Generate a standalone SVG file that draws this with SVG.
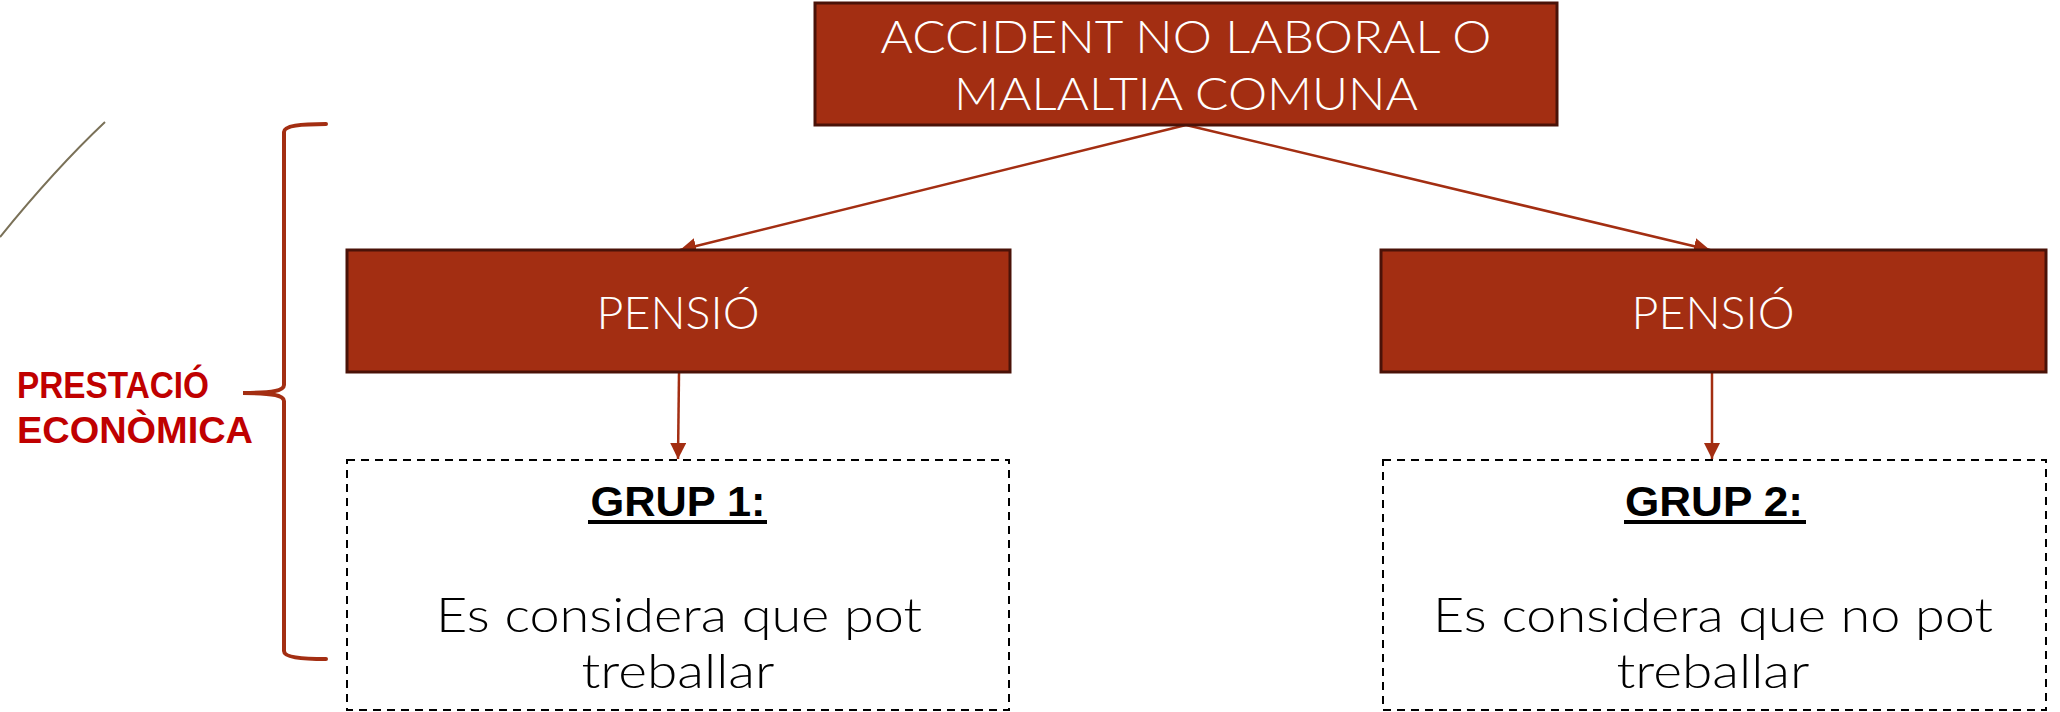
<svg xmlns="http://www.w3.org/2000/svg" width="2060" height="712" viewBox="0 0 2060 712">
<style>
.box{fill:#A32E12;stroke:#4A1208;stroke-width:3}
.dash{fill:#FFFFFF;stroke:#000000;stroke-width:2;stroke-dasharray:8 6}
.wt{font-family:Lato,"Liberation Sans",Arial,sans-serif;font-weight:300;font-size:46px;fill:#FFFFFF;text-anchor:middle}
.bt{font-family:Lato,"Liberation Sans",Arial,sans-serif;font-weight:300;font-size:47px;fill:#000000;text-anchor:middle}
.gt{font-family:"Liberation Sans",Arial,sans-serif;font-size:43px;font-weight:bold;fill:#000000;text-anchor:middle}
.rt{font-family:"Liberation Sans",Arial,sans-serif;font-size:36px;font-weight:bold;fill:#C00000}
.conn{stroke:#A32E12;stroke-width:2.5;fill:none;marker-end:url(#ah)}
</style>
<defs>
<marker id="ah" viewBox="0 0 10 10" refX="10" refY="5" markerWidth="6.5" markerHeight="6.5" markerUnits="strokeWidth" orient="auto">
<path d="M0,0 L10,5 L0,10 z" fill="#A32E12"/>
</marker>
</defs>
<rect width="2060" height="712" fill="#FFFFFF"/>
<path d="M0,237 C30,200 70,155 105,122" stroke="#7A7158" stroke-width="2" fill="none"/>
<g id="brace">
<path d="M326,124 C300,124 284,126 284,132 L284,385 C284,391 270,393 243,393 C270,393 284,395 284,401 L284,651 C284,657 300,659 326,659" stroke="#A32E12" stroke-width="4" fill="none" stroke-linecap="round"/>
</g>
<g id="label-prestacio">
<text class="rt" x="17" y="398" textLength="192" lengthAdjust="spacingAndGlyphs">PRESTACIÓ</text>
<text class="rt" x="17" y="443" textLength="236" lengthAdjust="spacingAndGlyphs">ECONÒMICA</text>
</g>
<g id="connectors">
<line class="conn" x1="1186" y1="125" x2="680" y2="250"/>
<line class="conn" x1="1186" y1="125" x2="1710" y2="250"/>
<line class="conn" x1="679" y1="373" x2="678" y2="459"/>
<line class="conn" x1="1712" y1="373" x2="1712" y2="459"/>
</g>
<g id="node-top">
<rect class="box" x="815" y="3" width="742" height="122"/>
<text class="wt" x="1186" y="53" textLength="611" lengthAdjust="spacingAndGlyphs">ACCIDENT NO LABORAL O</text>
<text class="wt" x="1186" y="110" textLength="464" lengthAdjust="spacingAndGlyphs">MALALTIA COMUNA</text>
</g>
<g id="node-pensio-1">
<rect class="box" x="347" y="250" width="663" height="122"/>
<text class="wt" x="678" y="329" textLength="163" lengthAdjust="spacingAndGlyphs">PENSIÓ</text>
</g>
<g id="node-pensio-2">
<rect class="box" x="1381" y="250" width="665" height="122"/>
<text class="wt" x="1713" y="329" textLength="163" lengthAdjust="spacingAndGlyphs">PENSIÓ</text>
</g>
<g id="node-grup-1">
<rect class="dash" x="347" y="460" width="662" height="250"/>
<text class="gt" x="678" y="516" textLength="175" lengthAdjust="spacingAndGlyphs">GRUP 1:</text>
<line x1="588" y1="522" x2="767" y2="522" stroke="#000000" stroke-width="4"/>
<text class="bt" x="679" y="632" textLength="486" lengthAdjust="spacingAndGlyphs">Es considera que pot</text>
<text class="bt" x="678" y="688" textLength="193" lengthAdjust="spacingAndGlyphs">treballar</text>
</g>
<g id="node-grup-2">
<rect class="dash" x="1383" y="460" width="663" height="250"/>
<text class="gt" x="1714" y="516" textLength="178" lengthAdjust="spacingAndGlyphs">GRUP 2:</text>
<line x1="1624" y1="522" x2="1806" y2="522" stroke="#000000" stroke-width="4"/>
<text class="bt" x="1713" y="632" textLength="560" lengthAdjust="spacingAndGlyphs">Es considera que no pot</text>
<text class="bt" x="1713" y="688" textLength="193" lengthAdjust="spacingAndGlyphs">treballar</text>
</g>
</svg>
